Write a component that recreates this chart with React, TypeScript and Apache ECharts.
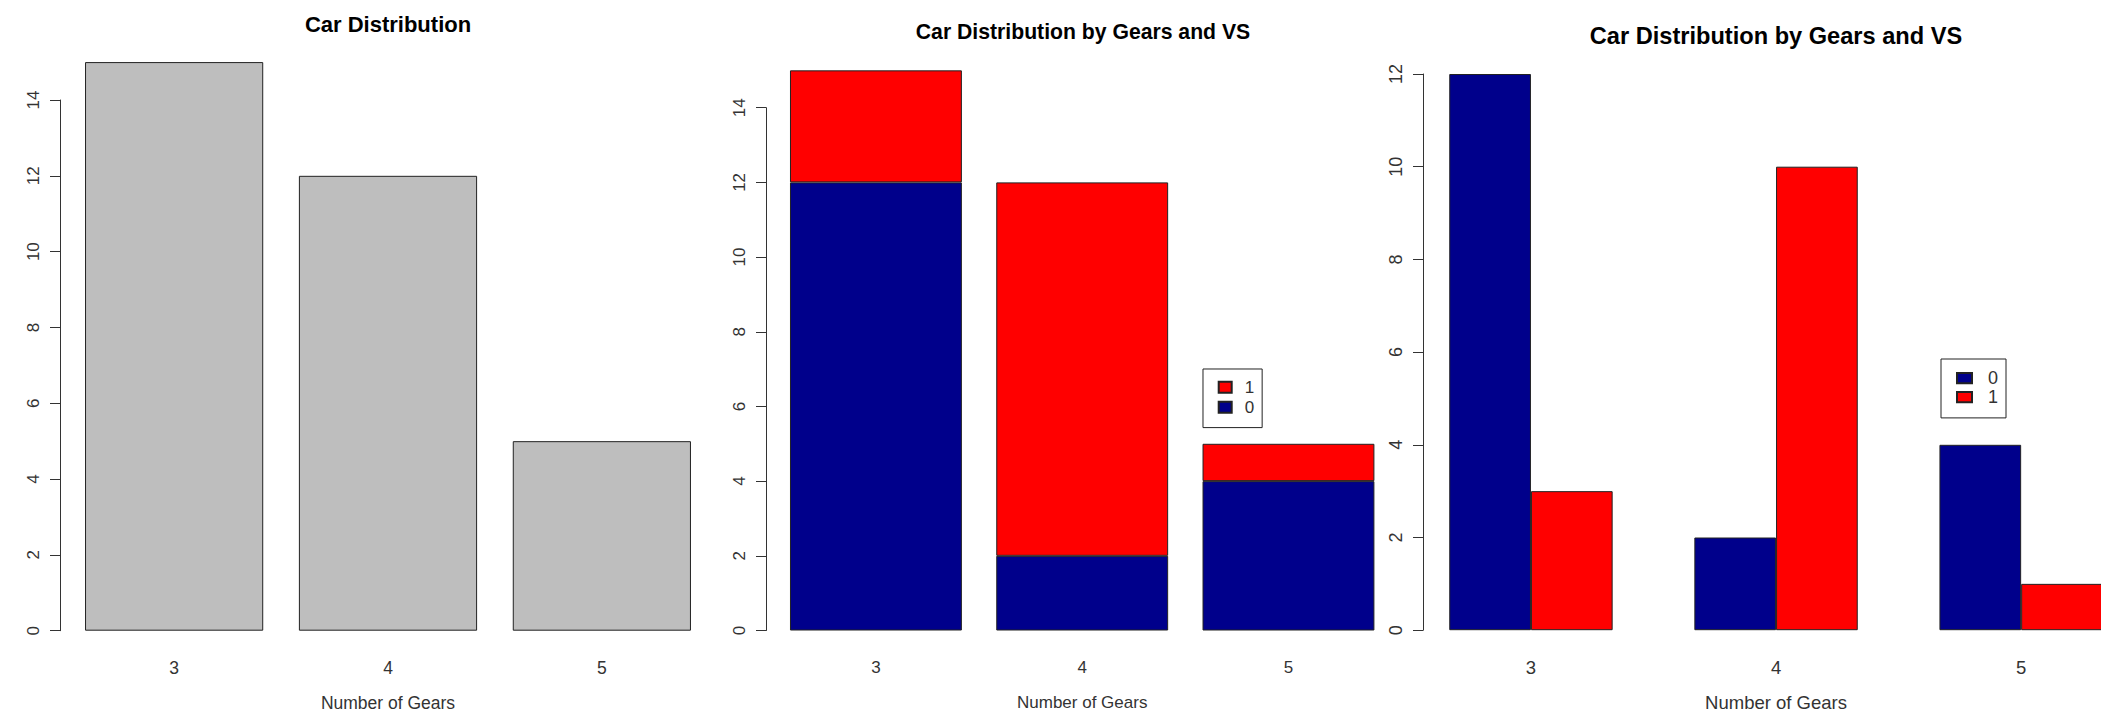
import React, { useEffect, useRef } from "react";
import * as echarts from "echarts";

const gears = ["3", "4", "5"];
const carCounts = [15, 12, 5];
const vs0Counts = [12, 2, 4];
const vs1Counts = [3, 10, 1];
const yTicks1 = { min: 0, max: 14, step: 2 };
const yTicks2 = { min: 0, max: 14, step: 2 };
const yTicks3 = { min: 0, max: 12, step: 2 };

const FONT = "'Liberation Sans', Arial, sans-serif";
const NAVY = "#00008B";
const RED = "#FF0000";
const GRAY = "#BEBEBE";
const EDGE = "#222222";
const TXT = "#333333";

function yAxisOpt(gridIndex: number, t: { min: number; max: number; step: number }, offset: number, fs: number) {
  return {
    type: "value",
    gridIndex,
    min: t.min,
    max: t.max,
    interval: t.step,
    offset,
    axisLine: { show: true, lineStyle: { color: "#333", width: 1 } },
    axisTick: { show: true, length: 10, lineStyle: { color: "#333", width: 1 } },
    splitLine: { show: false },
    axisLabel: { rotate: 90, margin: 18, fontSize: fs, color: TXT, fontFamily: FONT },
  };
}

function xAxisOpt(gridIndex: number, fs: number) {
  return {
    type: "category",
    gridIndex,
    data: gears,
    axisLine: { show: false },
    axisTick: { show: false },
    axisLabel: { margin: 28, fontSize: fs, color: TXT, fontFamily: FONT, interval: 0 },
    name: "Number of Gears",
    nameLocation: "middle",
    nameGap: 63,
    nameTextStyle: { fontSize: fs, color: TXT, fontFamily: FONT },
  };
}

export default function App() {
  const ref = useRef<HTMLDivElement>(null);
  useEffect(() => {
    if (!ref.current) return;
    const chart = echarts.init(ref.current, null, { renderer: "svg" });
    const option: any = {
      animation: false,
      backgroundColor: "#ffffff",
      grid: [
        { left: 67.2, top: 100, width: 641.6, height: 530.7, outerBoundsMode: "none", containLabel: false },
        { left: 772.8, top: 107.7, width: 618.8, height: 522.8, outerBoundsMode: "none", containLabel: false },
        { left: 1408.4, top: 74, width: 735.3, height: 556.2, outerBoundsMode: "none", containLabel: false },
      ],
      xAxis: [xAxisOpt(0, 17.5), xAxisOpt(1, 17), xAxisOpt(2, 18.5)],
      yAxis: [
        yAxisOpt(0, yTicks1, 7.2, 17),
        yAxisOpt(1, yTicks2, 6.8, 17),
        yAxisOpt(2, yTicks3, -14.6, 18),
      ],
      legend: [
        {
          orient: "vertical",
          left: 1203,
          top: 369,
          data: ["1", "0"],
          icon: "rect",
          itemWidth: 13,
          itemHeight: 11,
          itemGap: 0,
          padding: [8.3, 8, 10.3, 14.7],
          borderColor: "#222",
          borderWidth: 1,
          selectedMode: false,
          textStyle: { fontSize: 17, lineHeight: 20, color: TXT, fontFamily: FONT, padding: [0, 0, 0, 8] },
        },
        {
          orient: "vertical",
          left: 1941,
          top: 359,
          data: ["0", "1"],
          icon: "rect",
          itemWidth: 15,
          itemHeight: 10.3,
          itemGap: 0,
          padding: [9.6, 8, 11.3, 15],
          borderColor: "#222",
          borderWidth: 1,
          selectedMode: false,
          textStyle: { fontSize: 18, lineHeight: 19, color: TXT, fontFamily: FONT, padding: [0, 0, 0, 11] },
        },
      ],
      graphic: [
        {
          type: "text",
          x: 388,
          y: 24,
          style: { text: "Car Distribution", align: "center", verticalAlign: "middle", font: `bold 22px ${FONT}`, fill: "#000" },
        },
        {
          type: "text",
          x: 1083,
          y: 31,
          style: { text: "Car Distribution by Gears and VS", align: "center", verticalAlign: "middle", font: `bold 21.2px ${FONT}`, fill: "#000" },
        },
        {
          type: "text",
          x: 1776,
          y: 36,
          style: { text: "Car Distribution by Gears and VS", align: "center", verticalAlign: "middle", font: `bold 23.6px ${FONT}`, fill: "#000" },
        },
      ],
      series: [
        {
          name: "Cars",
          type: "bar",
          xAxisIndex: 0,
          yAxisIndex: 0,
          data: carCounts,
          barWidth: 178.2,
          clip: false,
          itemStyle: { color: GRAY, borderColor: EDGE, borderWidth: 1 },
        },
        {
          name: "0",
          type: "bar",
          xAxisIndex: 1,
          yAxisIndex: 1,
          stack: "vs",
          data: vs0Counts,
          barWidth: 171.9,
          clip: false,
          itemStyle: { color: NAVY, borderColor: EDGE, borderWidth: 1 },
        },
        {
          name: "1",
          type: "bar",
          xAxisIndex: 1,
          yAxisIndex: 1,
          stack: "vs",
          data: vs1Counts,
          barWidth: 171.9,
          clip: false,
          itemStyle: { color: RED, borderColor: EDGE, borderWidth: 1 },
        },
        {
          name: "0",
          type: "bar",
          xAxisIndex: 2,
          yAxisIndex: 2,
          data: vs0Counts,
          barWidth: 81.7,
          barGap: "0%",
          clip: false,
          itemStyle: { color: NAVY, borderColor: EDGE, borderWidth: 1 },
        },
        {
          name: "1",
          type: "bar",
          xAxisIndex: 2,
          yAxisIndex: 2,
          data: vs1Counts,
          barWidth: 81.7,
          barGap: "0%",
          clip: false,
          itemStyle: { color: RED, borderColor: EDGE, borderWidth: 1 },
        },
      ],
    };
    chart.setOption(option);
    return () => chart.dispose();
  }, []);
  return (
    <div
      ref={ref}
      style={{ position: "fixed", left: 0, top: 0, width: 2101, height: 715, overflow: "hidden", background: "#fff" }}
    />
  );
}
